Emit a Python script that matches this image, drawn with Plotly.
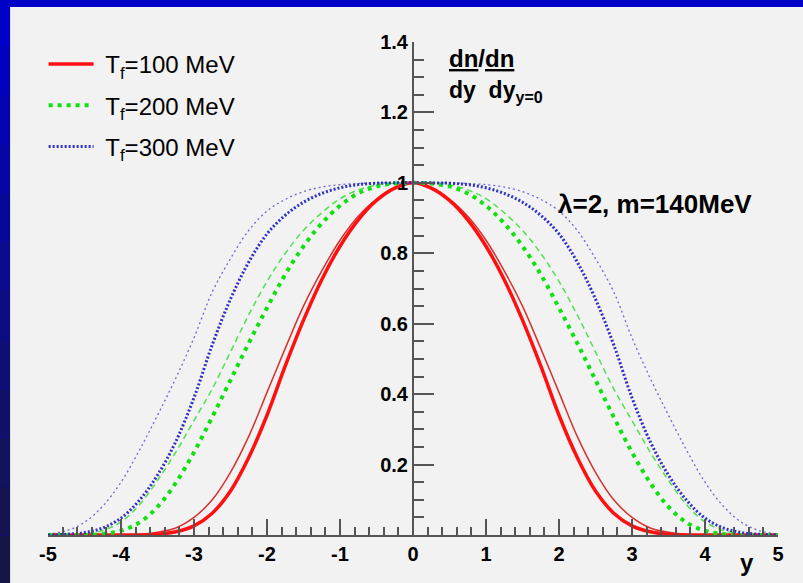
import plotly.graph_objects as go

# rapidity grid
rapidity = [-5.0, -4.75, -4.5, -4.25, -4.0, -3.75, -3.5, -3.25, -3.0, -2.75, -2.5, -2.25, -2.0, -1.75,
            -1.5, -1.25, -1.0, -0.75, -0.5, -0.25, 0.0, 0.25, 0.5, 0.75, 1.0, 1.25, 1.5, 1.75, 2.0,
            2.25, 2.5, 2.75, 3.0, 3.25, 3.5, 3.75, 4.0, 4.25, 4.5, 4.75, 5.0]

# dn/dy normalised to y=0 (thick and thin curve per temperature)
red_thick = [0, 0, 0, 0, 0, 0, 0.002, 0.009, 0.026, 0.062, 0.125, 0.22, 0.34, 0.48,
             0.61, 0.725, 0.82, 0.895, 0.95, 0.985, 1.0, 0.985, 0.95, 0.895, 0.82, 0.725, 0.61, 0.48, 0.34,
             0.22, 0.125, 0.062, 0.026, 0.009, 0.002, 0, 0, 0, 0, 0, 0]
red_thin = [0, 0, 0, 0, 0, 0.002, 0.008, 0.02, 0.05, 0.10, 0.178, 0.28, 0.405, 0.53,
            0.65, 0.75, 0.837, 0.905, 0.954, 0.986, 1.0, 0.986, 0.954, 0.905, 0.837, 0.75, 0.65, 0.53, 0.405,
            0.28, 0.178, 0.10, 0.05, 0.02, 0.008, 0.002, 0, 0, 0, 0, 0]
green_thick = [0, 0, 0, 0.003, 0.012, 0.035, 0.08, 0.148, 0.235, 0.335, 0.44, 0.545, 0.645, 0.74,
               0.82, 0.885, 0.935, 0.97, 0.99, 0.998, 1.0, 0.998, 0.99, 0.97, 0.935, 0.885, 0.82, 0.74, 0.645,
               0.545, 0.44, 0.335, 0.235, 0.148, 0.08, 0.035, 0.012, 0.003, 0, 0, 0]
green_thin = [0, 0, 0.003, 0.013, 0.037, 0.085, 0.155, 0.235, 0.325, 0.415, 0.52, 0.625, 0.72, 0.80,
              0.865, 0.915, 0.955, 0.98, 0.994, 0.999, 1.0, 0.999, 0.994, 0.98, 0.955, 0.915, 0.865, 0.80, 0.72,
              0.625, 0.52, 0.415, 0.325, 0.235, 0.155, 0.085, 0.037, 0.013, 0.003, 0, 0]
blue_thick = [0, 0.002, 0.007, 0.02, 0.048, 0.098, 0.17, 0.265, 0.39, 0.54, 0.67, 0.775, 0.855, 0.908,
              0.945, 0.97, 0.986, 0.995, 0.999, 1.0, 1.0, 1.0, 0.999, 0.995, 0.986, 0.97, 0.945, 0.908, 0.855,
              0.775, 0.67, 0.54, 0.39, 0.265, 0.17, 0.098, 0.048, 0.02, 0.007, 0.002, 0]
blue_thin = [0.003, 0.012, 0.036, 0.082, 0.15, 0.24, 0.34, 0.445, 0.56, 0.69, 0.785, 0.865, 0.92, 0.953,
             0.975, 0.988, 0.995, 0.998, 1.0, 1.0, 1.0, 1.0, 1.0, 0.998, 0.995, 0.988, 0.975, 0.953, 0.92,
             0.865, 0.785, 0.69, 0.56, 0.445, 0.34, 0.24, 0.15, 0.082, 0.036, 0.012, 0.003]

legend_labels = ["\u00a0T<sub>f</sub>=100 MeV", "\u00a0T<sub>f</sub>=200 MeV", "\u00a0T<sub>f</sub>=300 MeV"]

x_tick_vals = [-5, -4, -3, -2, -1, 0, 1, 2, 3, 4, 5]
x_tick_text = ["-5", "-4", "-3", "-2", "-1", "0", "1", "2", "3", "4", "5"]
y_tick_vals = [0.2, 0.4, 0.6, 0.8, 1.0, 1.2, 1.4]
y_tick_text = ["0.2", "0.4", "0.6", "0.8", "1", "1.2", "1.4"]

fig = go.Figure()

# thin curves (no legend entry)
fig.add_trace(go.Scatter(x=rapidity, y=red_thin, mode="lines", line=dict(color="#d83030", width=1.5),
                         line_shape="spline", showlegend=False, legendgroup="a"))
fig.add_trace(go.Scatter(x=rapidity, y=green_thin, mode="lines",
                         line=dict(color="#50e050", width=1.5, dash="6px,4px"),
                         line_shape="spline", showlegend=False, legendgroup="b"))
fig.add_trace(go.Scatter(x=rapidity, y=blue_thin, mode="lines",
                         line=dict(color="#6a6ad0", width=1.3, dash="2px,3px"),
                         line_shape="spline", showlegend=False, legendgroup="c"))

# thick curves
fig.add_trace(go.Scatter(x=rapidity, y=red_thick, mode="lines", name=legend_labels[0],
                         line=dict(color="#ff1010", width=3.5), line_shape="spline", legendgroup="a"))
fig.add_trace(go.Scatter(x=rapidity, y=green_thick, mode="lines", name=legend_labels[1],
                         line=dict(color="#10e010", width=4, dash="4px,5px"),
                         line_shape="spline", legendgroup="b"))
fig.add_trace(go.Scatter(x=rapidity, y=blue_thick, mode="lines", name=legend_labels[2],
                         line=dict(color="#3030c8", width=3, dash="2px,2px"),
                         line_shape="spline", legendgroup="c"))

# slide-style frame: gray panel + dark gradient strip on the left
shapes = [dict(type="rect", xref="paper", yref="paper", x0=-0.052, x1=1.05, y0=-0.2, y1=1.071,
               fillcolor="#f2f2f2", line_width=0, layer="below")]
n = 12
for i in range(n):
    t = i / (n - 1)
    col = "rgb(%d,%d,%d)" % (int(0 + 22 * t), int(0 + 22 * t), int(200 - 130 * t))
    shapes.append(dict(type="rect", xref="paper", yref="paper", x0=-0.07, x1=-0.052,
                       y0=1.09 - (i + 1) * 1.19 / n, y1=1.09 - i * 1.19 / n,
                       fillcolor=col, line_width=0, layer="below"))

font_family = "Liberation Sans, Arial, sans-serif"
bold = dict(family=font_family, size=20, color="black", weight="bold")

fig.update_layout(
    width=803, height=583, autosize=False,
    margin=dict(l=48, r=25, t=42, b=48),
    paper_bgcolor="#0000c8",
    plot_bgcolor="rgba(0,0,0,0)",
    shapes=shapes,
    showlegend=True,
    legend=dict(x=-0.006, y=1.0, xanchor="left", yanchor="top", bgcolor="rgba(0,0,0,0)",
                font=dict(family=font_family, size=24, color="black"),
                traceorder="grouped", tracegroupgap=7, itemwidth=45),
    xaxis=dict(range=[-5, 5], showgrid=False, zeroline=False, showline=True, linecolor="#555",
               linewidth=2, ticks="inside", ticklen=16, tickwidth=1.5, tickcolor="#555",
               tickmode="array", tickvals=x_tick_vals, ticktext=x_tick_text, tickfont=bold,
               minor=dict(ticks="inside", ticklen=8, tickwidth=1.5, tickcolor="#555",
                          tickmode="linear", tick0=0, dtick=0.2)),
    yaxis=dict(range=[0, 1.4], anchor="free", position=0.5, showgrid=False, zeroline=False,
               showline=True, linecolor="#555", linewidth=2, ticks="inside", ticklen=20,
               tickwidth=1.5, tickcolor="#555", tickmode="array", tickvals=y_tick_vals,
               ticktext=y_tick_text, tickfont=bold,
               minor=dict(ticks="inside", ticklen=10, tickwidth=1.5, tickcolor="#555",
                          tickmode="linear", tick0=0, dtick=0.05)),
)

fig.add_annotation(x=3.32, y=0.94, xref="x", yref="y", text="λ=2, m=140MeV", showarrow=False,
                   font=dict(family=font_family, size=26, color="black", weight="bold"))
fig.add_annotation(x=0.5466, y=0.9675, xref="paper", yref="paper", xanchor="left", yanchor="middle",
                   text="<u>dn</u>/<u>dn</u>", showarrow=False,
                   font=dict(family=font_family, size=24, color="black", weight="bold"))
fig.add_annotation(x=0.5466, y=0.8986, xref="paper", yref="paper", xanchor="left", yanchor="middle",
                   text="dy  dy<sub>y=0</sub>", showarrow=False,
                   font=dict(family=font_family, size=23, color="black", weight="bold"))
fig.add_annotation(x=0.957, y=-0.055, xref="paper", yref="paper", xanchor="center", yanchor="middle",
                   text="y", showarrow=False,
                   font=dict(family=font_family, size=24, color="black", weight="bold"))

fig.write_html("out.html", config={"displayModeBar": False},
               post_script="document.body.style.margin='0';document.body.style.overflow='hidden';")
